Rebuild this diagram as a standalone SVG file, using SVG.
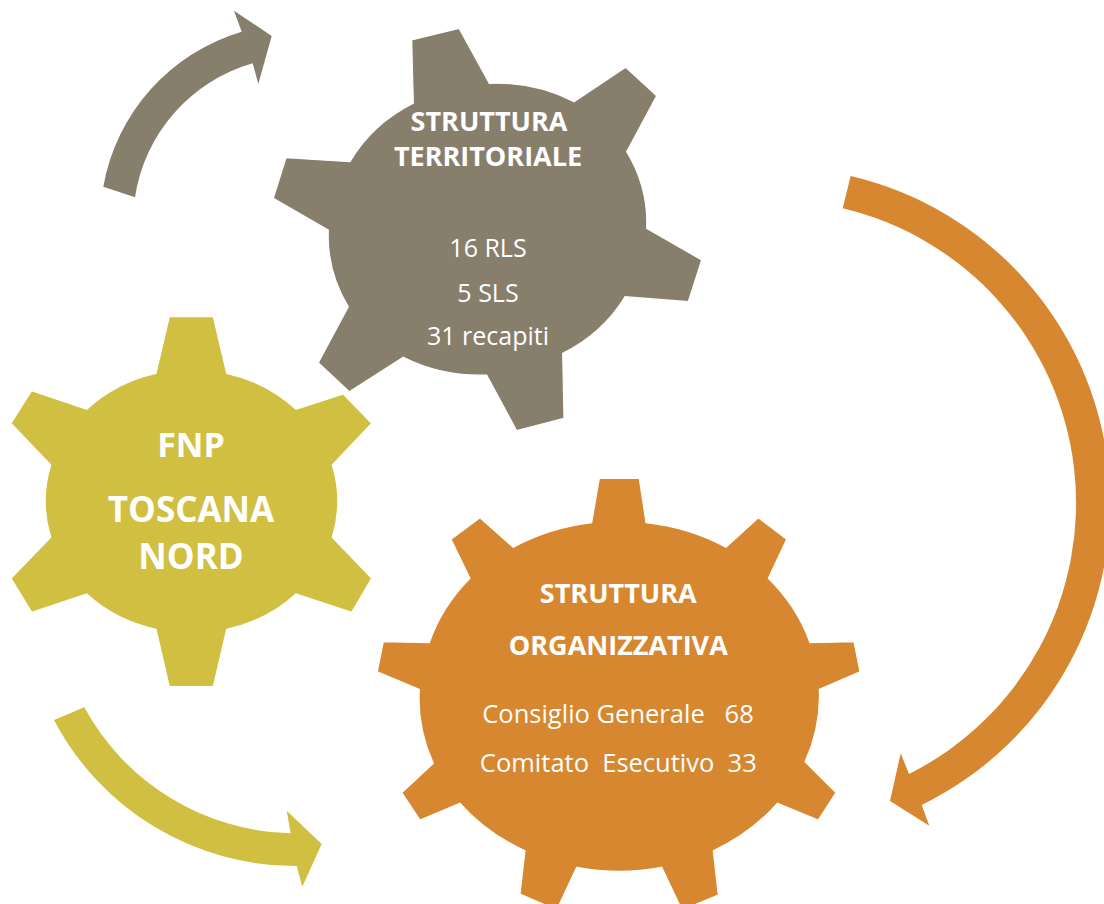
<svg xmlns="http://www.w3.org/2000/svg" width="1104" height="904" viewBox="0 0 1104 904">
<style>
.bg{fill:#ffffff}
.grey{fill:#877E6B}
.yellow{fill:#D1BF41}
.orange{fill:#D6872F}
.gear{stroke:#ffffff;stroke-width:1.2;stroke-linejoin:miter}
.t{font-family:"Open Sans","Lato","Liberation Sans",sans-serif;fill:#ffffff;text-anchor:middle}
.b{font-weight:bold}
</style>
<rect class="bg" x="0" y="0" width="1104" height="904"/>
<g id="connectors">
<path id="arrow-grey" class="grey" d="M103.3,186.7 A198,198 0 0 1 241.7,31.7 L234,10.7 L271.7,36 L258.3,84 L252.7,63.3 A165,165 0 0 0 135,197.3 Z"/>
<path id="arrow-orange" class="orange" d="M850.7,176 A336,336 0 0 1 921.7,805 L929.3,825.7 L890,801 L900.7,753.3 L909,774 A303,303 0 0 0 842.7,208.3 Z"/>
<path id="arrow-yellow" class="yellow" d="M54,720 A272,272 0 0 0 296.7,866 L302.3,886.7 L321.7,844 L286.7,810.7 L290.7,833.3 A241,241 0 0 1 84.3,707.3 Z"/>
</g>
<g id="gear-fnp">
<path class="yellow gear" d="M156,373.3 L169.3,316.7 L213.3,316.7 L226.7,373.3 A145.5,133 0 0 1 296,409.3 L343.3,394 L371.7,423.3 L332.3,465 A145.5,133 0 0 1 332.3,537.3 L371.7,578.3 L351.7,612.3 L296,594 A145.5,133 0 0 1 226.7,629.3 L213.3,686.7 L169.3,686.7 L156,629.3 A145.5,133 0 0 1 86.7,594 L31.7,612.3 L11,578.3 L50.7,537.3 A145.5,133 0 0 1 50.7,465 L11,423.3 L31.7,390.7 L86.7,409.3 A145.5,133 0 0 1 156,373.3 Z"/>
<text class="t b" x="191" y="456.7" font-size="34">FNP</text>
<text class="t b" x="191" y="522.3" font-size="35">TOSCANA</text>
<text class="t b" x="191" y="569" font-size="35">NORD</text>
</g>
<g id="gear-territoriale">
<path class="grey gear" d="M413.3,103.3 L411.7,40 L459,28.3 L489.3,83.3 A159,146 0 0 1 574,101.7 L625.7,67.3 L656.7,95.7 L626.7,151.7 A159,146 0 0 1 646.7,228.3 L701.7,260 L688.3,301.7 L625,296.7 A159,146 0 0 1 562.7,353.3 L564,418.3 L516.7,430.7 L486.7,375 A159,146 0 0 1 403.3,357.3 L349.3,391.7 L318.3,362.7 L348.3,306.7 A159,146 0 0 1 328.3,230 L273.3,198.3 L286,157.7 L350,161.7 A159,146 0 0 1 413.3,103.3 Z"/>
<text class="t b" x="489" y="130.7" font-size="27">STRUTTURA</text>
<text class="t b" x="488" y="165.7" font-size="27">TERRITORIALE</text>
<text class="t" x="488" y="256.7" font-size="25">16 RLS</text>
<text class="t" x="488" y="301.7" font-size="25">5 SLS</text>
<text class="t" x="488" y="345" font-size="25">31 recapiti</text>
</g>
<g id="gear-organizzativa">
<path class="orange gear" d="M591.7,522.7 L599.3,478.3 L639.3,478.3 L646,522.7 A200,175 0 0 1 726,547.3 L758.3,517.7 L786.7,539.3 L768.3,578.3 A200,175 0 0 1 810,642.7 L854,641.7 L860,671.7 L819.3,689.3 A200,175 0 0 1 805,761.7 L836,792.7 L818.3,820 L777.3,803.3 A200,175 0 0 1 713.3,850.7 L718.3,895 L682,910 L661.7,867.3 A200,175 0 0 1 576.7,867.3 L556.7,910 L520,894 L525,850.7 A200,175 0 0 1 460,803.3 L420,820 L401.7,792.7 L433.3,763.3 A200,175 0 0 1 419.3,689.3 L377.3,671.7 L383.3,641.7 L429.3,642.7 A200,175 0 0 1 470,578.3 L451,539.3 L480,517.7 L513.3,547.3 A200,175 0 0 1 591.7,522.7 Z"/>
<text class="t b" x="618.3" y="602.7" font-size="27">STRUTTURA</text>
<text class="t b" x="618.3" y="655" font-size="27">ORGANIZZATIVA</text>
<text class="t" x="618" y="723.3" font-size="25.5" xml:space="preserve">Consiglio Generale   68</text>
<text class="t" x="618.3" y="771.7" font-size="25.5" xml:space="preserve">Comitato  Esecutivo  33</text>
</g>
</svg>
